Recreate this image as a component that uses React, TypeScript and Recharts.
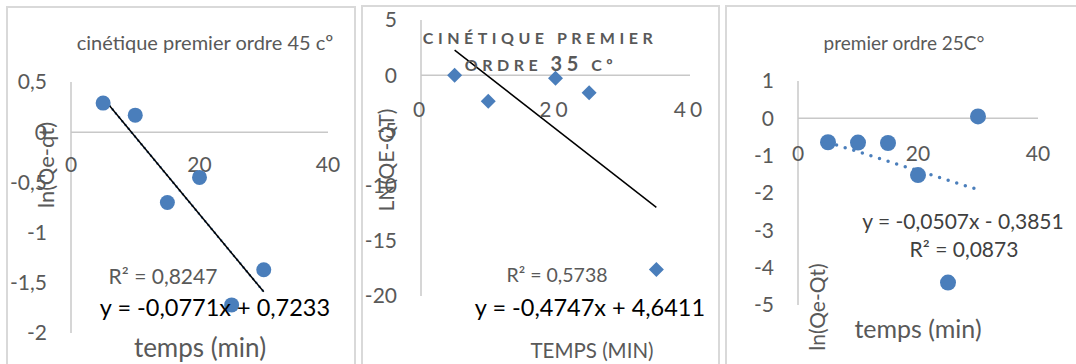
import { ScatterChart, Scatter, XAxis, YAxis, ReferenceLine, ReferenceDot } from 'recharts';

const FONT = 'Lato, Calibri, sans-serif';
const GRAY = '#595959';
const AXIS = '#c8c8c8';
const BLUE = '#4a7ebb';
const BORDER = '#d9d9d9';

// 45 °C
const temps45 = [5, 10, 15, 20, 25, 30];
const ln45 = [0.29, 0.17, -0.7, -0.45, -1.72, -1.37];
const fit45X = [5, 30];
const fit45Y = [0.34, -1.59];
const yTicks45 = [0.5, 0, -0.5, -1, -1.5, -2];

// 35 °C
const temps35 = [5, 10, 20, 25, 35];
const ln35 = [0, -2.35, -0.27, -1.6, -17.6];
const fit35X = [5, 35];
const fit35Y = [2.27, -11.97];
const yTicks35 = [5, 0, -5, -10, -15, -20];

// 25 °C
const temps25 = [5, 10, 15, 20, 25, 30];
const ln25 = [-0.64, -0.65, -0.66, -1.52, -4.4, 0.05];
const fit25X = [5, 30];
const fit25Y = [-0.64, -1.91];
const yTicks25 = [1, 0, -1, -2, -3, -4, -5];

const xTicks = [0, 20, 40];

const zip = (xs: number[], ys: number[]) => xs.map((x, i) => ({ x, y: ys[i] }));
const fr = (v: number) => String(v).replace('.', ',');

const circle = (r: number) => (p: any) => <circle cx={p.cx} cy={p.cy} r={r} fill={BLUE} />;
const diamond = (p: any) => (
  <polygon
    points={`${p.cx},${p.cy - 7.5} ${p.cx + 7.5},${p.cy} ${p.cx},${p.cy + 7.5} ${p.cx - 7.5},${p.cy}`}
    fill={BLUE}
  />
);

type PanelProps = {
  left: number;
  width: number;
  margin: { top: number; right: number; bottom: number };
  yWidth: number;
  yDomain: [number, number];
  yTicks: number[];
  points: { x: number; y: number }[];
  fit: { x: number; y: number }[];
  shape: any;
  labelDy: number;
  xSpacing?: number;
  lines: { stroke: string; width: number; dash?: string }[];
};

function Panel(p: PanelProps) {
  const seg = [
    { x: p.fit[0].x, y: p.fit[0].y },
    { x: p.fit[1].x, y: p.fit[1].y },
  ];
  return (
    <div style={{ position: 'absolute', left: p.left, top: 0 }}>
      <ScatterChart width={p.width} height={364} margin={{ ...p.margin, left: 0 }}>
        <XAxis type="number" dataKey="x" domain={[0, 40]} ticks={xTicks} hide />
        <YAxis
          type="number"
          dataKey="y"
          domain={p.yDomain}
          ticks={p.yTicks}
          width={p.yWidth}
          interval={0}
          tickFormatter={fr}
          tickLine={false}
          tickMargin={18}
          axisLine={{ stroke: AXIS, strokeWidth: 1.5 }}
          tick={{ fill: GRAY, fontSize: 21, fontFamily: FONT }}
        />
        <ReferenceLine y={0} stroke={AXIS} strokeWidth={1.5} />
        {xTicks.map((t) => (
          <ReferenceDot
            key={t}
            x={t}
            y={0}
            r={0}
            shape={(s: any) => (
              <text
                x={s.cx}
                y={s.cy + p.labelDy}
                textAnchor="middle"
                dominantBaseline="central"
                fill={GRAY}
                fontSize={21}
                fontFamily={FONT}
                letterSpacing={p.xSpacing ?? 0}
              >
                {t}
              </text>
            )}
          />
        ))}
        {p.lines.map((l, i) => (
          <ReferenceLine
            key={i}
            segment={seg}
            stroke={l.stroke}
            strokeWidth={l.width}
            strokeDasharray={l.dash}
            strokeLinecap={l.dash ? 'round' : 'butt'}
            ifOverflow="visible"
          />
        ))}
        <Scatter data={p.points} shape={p.shape} isAnimationActive={false} />
      </ScatterChart>
    </div>
  );
}

const txt = (
  x: number,
  y: number,
  size: number,
  color: string,
  content: any,
  extra: React.CSSProperties = {},
  rotate = false
) => (
  <div
    style={{
      position: 'absolute',
      left: x,
      top: y,
      fontSize: size,
      color,
      fontFamily: FONT,
      whiteSpace: 'nowrap',
      lineHeight: 1,
      ...extra,
      transform: `translate(-50%, -50%)${rotate ? ' rotate(-90deg)' : ''}`,
    }}
  >
    {content}
  </div>
);

const box = (left: number, top: number, width: number) => (
  <div
    style={{
      position: 'absolute',
      left,
      top,
      width,
      height: 420,
      border: `2px solid ${BORDER}`,
      boxSizing: 'border-box',
    }}
  />
);

export default function App() {
  return (
    <div
      style={{
        position: 'fixed',
        left: 0,
        top: 0,
        width: 1076,
        height: 364,
        overflow: 'hidden',
        background: '#fff',
      }}
    >
      {box(6, 6, 350)}
      {box(361, 5, 359)}
      {box(725, 5, 400)}

      <Panel
        left={0}
        width={360}
        margin={{ top: 82, right: 32, bottom: 31 }}
        yWidth={71}
        yDomain={[-2, 0.5]}
        yTicks={yTicks45}
        points={zip(temps45, ln45)}
        fit={zip(fit45X, fit45Y)}
        shape={circle(7.5)}
        labelDy={31}
        lines={[
          { stroke: BLUE, width: 2.5, dash: '0 5' },
          { stroke: '#000', width: 1.5 },
        ]}
      />
      <Panel
        left={360}
        width={360}
        margin={{ top: 20, right: 30, bottom: 68 }}
        yWidth={61}
        yDomain={[-20, 5]}
        yTicks={yTicks35}
        points={zip(temps35, ln35)}
        fit={zip(fit35X, fit35Y)}
        shape={diamond}
        labelDy={33}
        xSpacing={4}
        lines={[{ stroke: '#000', width: 1.5 }]}
      />
      <Panel
        left={720}
        width={356}
        margin={{ top: 81, right: 38, bottom: 59 }}
        yWidth={78}
        yDomain={[-5, 1]}
        yTicks={yTicks25}
        points={zip(temps25, ln25)}
        fit={zip(fit25X, fit25Y)}
        shape={circle(8)}
        labelDy={34}
        lines={[{ stroke: BLUE, width: 3.5, dash: '0 9' }]}
      />

      {/* 45 °C texts */}
      {txt(205, 42, 20, GRAY, 'cinétique premier ordre 45 cº')}
      {txt(46, 165, 22, GRAY, 'ln(Qe-qt)', {}, true)}
      {txt(163, 275, 21, GRAY, 'R² = 0,8247')}
      {txt(215, 308, 23.5, '#000', 'y = -0,0771x + 0,7233')}
      {txt(200, 347, 26, GRAY, 'temps (min)')}

      {/* 35 °C texts */}
      {txt(540, 38, 16, GRAY, 'CINÉTIQUE PREMIER', { fontWeight: 700, letterSpacing: 4.5 })}
      {txt(541, 63, 16, GRAY, <>ORDRE <span style={{ fontSize: 20 }}>35</span> Cº</>, {
        fontWeight: 700,
        letterSpacing: 4.5,
      })}
      {txt(385, 160, 21, GRAY, 'LN(QE-QT)', {}, true)}
      {txt(557, 275, 19.5, GRAY, 'R² = 0,5738')}
      {txt(590, 308, 23.5, '#000', 'y = -0,4747x + 4,6411')}
      {txt(592, 350, 20.5, GRAY, 'TEMPS (MIN)')}

      {/* 25 °C texts */}
      {txt(904, 42, 19, GRAY, 'premier ordre 25C°')}
      {txt(963, 220, 21, '#404040', 'y = -0,0507x - 0,3851')}
      {txt(964, 248, 21, '#404040', 'R² = 0,0873')}
      {txt(918, 328, 25, GRAY, 'temps (min)')}
      {txt(816, 307, 21, GRAY, 'ln(Qe-Qt)', {}, true)}
    </div>
  );
}
